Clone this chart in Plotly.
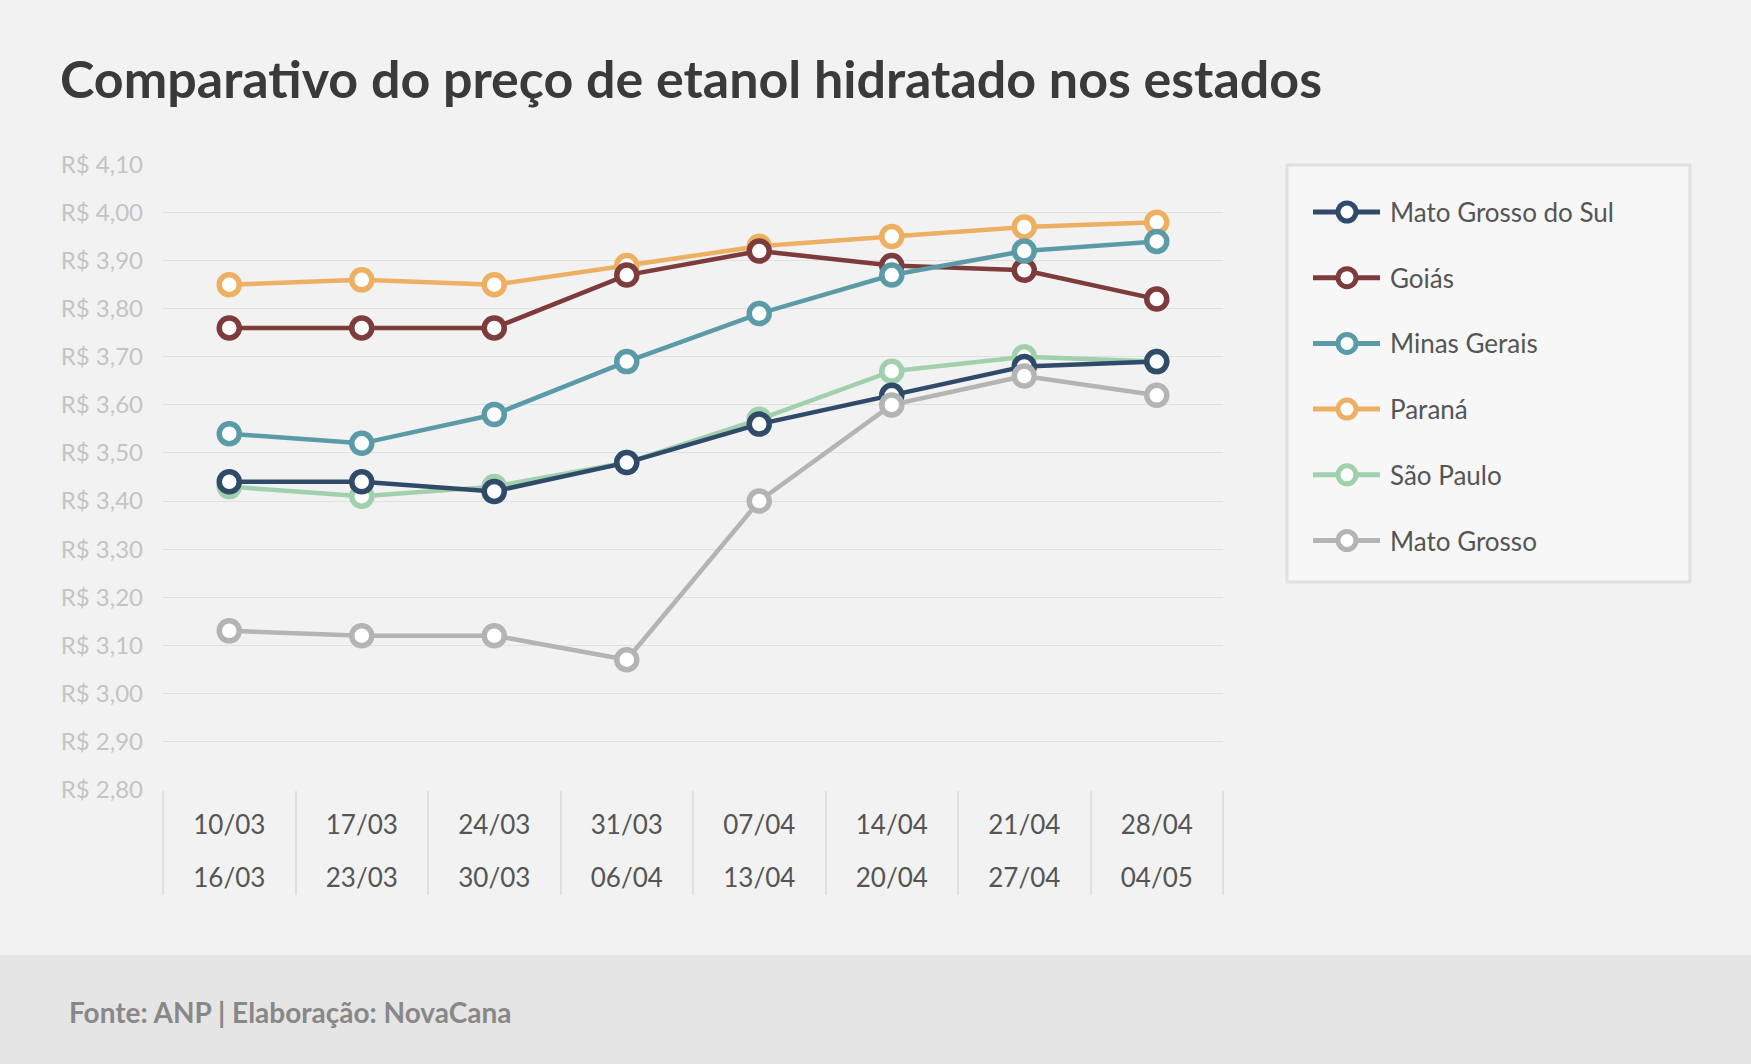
import plotly.graph_objects as go

# ---------------- data ----------------
week_start = ["10/03", "17/03", "24/03", "31/03", "07/04", "14/04", "21/04", "28/04"]
week_end = ["16/03", "23/03", "30/03", "06/04", "13/04", "20/04", "27/04", "04/05"]

mato_grosso_do_sul = [3.44, 3.44, 3.42, 3.48, 3.56, 3.62, 3.68, 3.69]
goias = [3.76, 3.76, 3.76, 3.87, 3.92, 3.89, 3.88, 3.82]
minas_gerais = [3.54, 3.52, 3.58, 3.69, 3.79, 3.87, 3.92, 3.94]
parana = [3.85, 3.86, 3.85, 3.89, 3.93, 3.95, 3.97, 3.98]
sao_paulo = [3.43, 3.41, 3.43, 3.48, 3.57, 3.67, 3.70, 3.69]
mato_grosso = [3.13, 3.12, 3.12, 3.07, 3.40, 3.60, 3.66, 3.62]

y_tick_values = [2.80, 2.90, 3.00, 3.10, 3.20, 3.30, 3.40, 3.50, 3.60, 3.70, 3.80, 3.90, 4.00, 4.10]
y_tick_labels = ["R$ 2,80", "R$ 2,90", "R$ 3,00", "R$ 3,10", "R$ 3,20", "R$ 3,30", "R$ 3,40",
                 "R$ 3,50", "R$ 3,60", "R$ 3,70", "R$ 3,80", "R$ 3,90", "R$ 4,00", "R$ 4,10"]

title_text = "Comparativo do preço de etanol hidratado nos estados"
source_text = "Fonte: ANP | Elaboração: NovaCana"

# (name, values, colour, legend position) in drawing order
series = [
    ("Paraná", parana, "#EDB062", 4),
    ("São Paulo", sao_paulo, "#A0D0AC", 5),
    ("Goiás", goias, "#7D3B3B", 2),
    ("Minas Gerais", minas_gerais, "#5B9BA8", 3),
    ("Mato Grosso do Sul", mato_grosso_do_sul, "#304A69", 1),
    ("Mato Grosso", mato_grosso, "#B4B4B4", 6),
]

FONT = "Lato, 'Open Sans', sans-serif"
W, H = 1751, 1064
ML, MR, MT, MB = 163, 528, 164, 274
PW, PH = W - ML - MR, H - MT - MB


def px_to_paper_y(py):
    return (H - py - MB) / PH


def px_to_paper_x(px):
    return (px - ML) / PW


fig = go.Figure()
for name, vals, color, rank in series:
    fig.add_trace(go.Scatter(
        x=week_start, y=vals, name=name, mode="lines+markers",
        line=dict(color=color, width=4.5),
        marker=dict(size=20, color="white", line=dict(color=color, width=5.5)),
        showlegend=False,
        hovertemplate=name + "<br>%{x}: R$ %{y:.2f}<extra></extra>",
    ))

# helper axis carrying the second line of each week label
fig.add_trace(go.Scatter(x=week_end, y=[None] * len(week_end), xaxis="x2",
                         showlegend=False, hoverinfo="skip"))

# ---------------- decorations: footer band + legend box ----------------
shapes = [
    dict(type="rect", xref="paper", yref="paper",
         x0=-0.3, x1=1.8, y0=px_to_paper_y(H + 20), y1=px_to_paper_y(955),
         fillcolor="#E5E5E5", line=dict(width=0), layer="below"),
    dict(type="rect", xref="paper", yref="paper",
         x0=px_to_paper_x(1287), x1=px_to_paper_x(1690),
         y0=px_to_paper_y(582), y1=px_to_paper_y(165),
         fillcolor="#F7F7F7", line=dict(color="#E0E0E0", width=3), layer="below"),
]
annotations = [
    dict(text=source_text, xref="paper", yref="paper",
         x=px_to_paper_x(67), xanchor="left",
         y=px_to_paper_y(1012), yanchor="middle", showarrow=False,
         font=dict(family=FONT, size=28, color="#888888", weight="bold")),
]

legend_first_y, legend_step = 212, 65.7
for name, vals, color, rank in series:
    ly = legend_first_y + (rank - 1) * legend_step
    yp = px_to_paper_y(ly)
    shapes.append(dict(type="line", xref="paper", yref="paper",
                       x0=px_to_paper_x(1313), x1=px_to_paper_x(1380), y0=yp, y1=yp,
                       line=dict(color=color, width=5)))
    shapes.append(dict(type="circle", xref="paper", yref="paper",
                       xsizemode="pixel", ysizemode="pixel",
                       xanchor=px_to_paper_x(1347), yanchor=yp,
                       x0=-9, x1=9, y0=-9, y1=9,
                       fillcolor="white", line=dict(color=color, width=5)))
    annotations.append(dict(text=name, xref="paper", yref="paper",
                            x=px_to_paper_x(1388), xanchor="left", y=yp, yanchor="middle",
                            showarrow=False,
                            font=dict(family=FONT, size=26, color="#555555")))

fig.update_layout(
    width=W, height=H,
    margin=dict(l=ML, r=MR, t=MT, b=MB),
    paper_bgcolor="#F2F2F2", plot_bgcolor="#F2F2F2",
    font=dict(family=FONT, color="#555555"),
    title=dict(text=title_text, x=60 / W, xref="container", xanchor="left",
               y=1 - 80 / H, yref="container", yanchor="middle",
               font=dict(family=FONT, size=52, color="#3A3A3A", weight="bold")),
    xaxis=dict(type="category", categoryarray=week_start, range=[-0.5, 7.5],
               showgrid=False, zeroline=False, showline=False,
               tickson="boundaries", ticks="outside", ticklen=104, tickwidth=1.5,
               tickcolor="#E0E0E0",
               tickfont=dict(family=FONT, size=26, color="#555555"),
               ticklabelstandoff=17, fixedrange=True),
    xaxis2=dict(type="category", categoryarray=week_end, range=[-0.5, 7.5],
                overlaying="x", side="bottom", showgrid=False, zeroline=False,
                showline=False, ticks="",
                tickfont=dict(family=FONT, size=26, color="#555555"),
                ticklabelstandoff=70, fixedrange=True),
    yaxis=dict(range=[2.799, 4.101], tickvals=y_tick_values, ticktext=y_tick_labels,
               showgrid=True, gridcolor="#E0E0E0", gridwidth=1.2, zeroline=False,
               showline=False, ticks="",
               tickfont=dict(family=FONT, size=24, color="#C4C4C4"),
               ticklabelstandoff=19, fixedrange=True),
    showlegend=False,
    shapes=shapes,
    annotations=annotations,
)

fig.write_html("out.html")
